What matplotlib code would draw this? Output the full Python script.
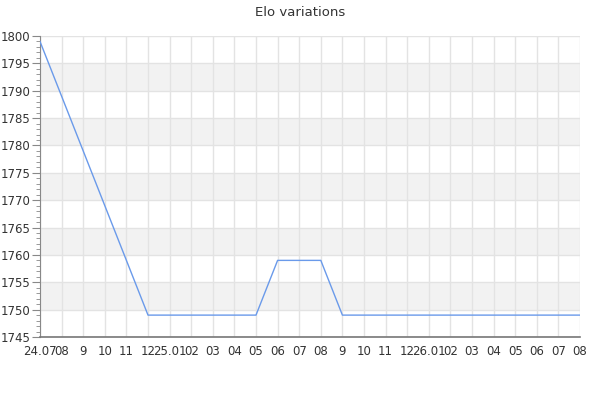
import matplotlib
import matplotlib.pyplot as plt
import numpy as np

matplotlib.use('Agg')

# month labels on the x axis
labels = ['24.07', '08', '9', '10', '11', '12', '25.01', '02', '03', '04', '05', '06', '07',
          '08', '9', '10', '11', '12', '26.01', '02', '03', '04', '05', '06', '07', '08']
# elo value per month
elo = [1799, 1789, 1779, 1769, 1759, 1749, 1749, 1749, 1749, 1749, 1749, 1759, 1759,
       1759, 1749, 1749, 1749, 1749, 1749, 1749, 1749, 1749, 1749, 1749, 1749, 1749]

fig = plt.figure(figsize=(6, 4), dpi=100)
ax = fig.add_axes([40 / 600, 1 - 337 / 400, 540 / 600, 301 / 400])

x = np.arange(len(elo))
y_min, y_max = 1745, 1800

# alternating bands
for b in range(1750, 1800, 10):
    ax.axhspan(b, b + 5, color='#f2f2f2', zorder=0, lw=0)

ax.plot(x, elo, color='#6a9aea', lw=1, zorder=3)

ax.set_xlim(0, len(elo) - 1)
ax.set_ylim(y_min, y_max)
ax.set_xticks(x)
ax.set_xticklabels(labels)
ax.set_yticks(np.arange(y_min, y_max + 1, 5))
ax.set_yticks(np.arange(y_min, y_max + 1, 1), minor=True)

ax.grid(True, which='major', color='#e3e3e3', lw=1, zorder=1)
ax.set_axisbelow(True)

for s in ['top', 'right']:
    ax.spines[s].set_visible(False)
ax.spines['left'].set_color('#888888')
ax.spines['bottom'].set_color('#777777')
ax.spines['bottom'].set_linewidth(1.2)

ax.tick_params(axis='x', length=0, pad=6, labelsize=8.5, labelcolor='#333333')
ax.tick_params(axis='y', which='major', length=6, color='#888888', labelsize=8.5,
               labelcolor='#333333', pad=1)
ax.tick_params(axis='y', which='minor', length=3, color='#888888')

fig.suptitle('Elo variations', y=0.985, fontsize=9.5, color='#333333')

fig.savefig('out.png', dpi=100)
